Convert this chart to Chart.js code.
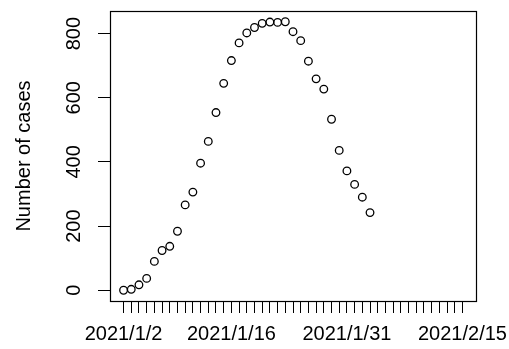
<!DOCTYPE html>
<html>
<head>
<meta charset="utf-8">
<script src="https://cdn.jsdelivr.net/npm/chart.js@4/dist/chart.umd.min.js"></script>
<style>
  html, body { margin: 0; padding: 0; background: #fff; }
  #wrap { width: 509px; height: 349px; }
</style>
</head>
<body>
<div id="wrap"><canvas id="casesChart" width="509" height="349"></canvas></div>
<script>
// --- Data ---
// day index 0 = 2021/1/2, one point per day
const cases = [0, 3, 17, 37, 90, 124, 137, 184, 266, 306, 396, 464, 554, 645, 716, 771,
               802, 819, 832, 836, 835, 837, 806, 778, 714, 659, 627, 533, 436, 372, 330, 290, 242];
const tickLabelDays = [0, 14, 29, 44];
const tickLabels = ['2021/1/2', '2021/1/16', '2021/1/31', '2021/2/15'];
const yTicks = [0, 200, 400, 600, 800];
const xFirstDay = 0;
const xLastDay = 44;

const FONT = "'Liberation Sans', Arial, Helvetica, sans-serif";

// R style 4% padding around the limits
const xPad = (xLastDay - xFirstDay) * 0.04;
const yMax = Math.max(...cases), yMin = Math.min(...cases);
const yPad = (yMax - yMin) * 0.04;

const points = cases.map((v, i) => ({x: i, y: v}));

let dayTicks = [];
for (let d = xFirstDay; d <= xLastDay; d++) dayTicks.push(d);

// box around the plot region, like R's box()
const boxPlugin = {
    id: 'box',
    afterDraw(chart) {
        const {ctx, chartArea: a} = chart;
        ctx.save();
        ctx.strokeStyle = '#000';
        ctx.lineWidth = 1.2;
        ctx.strokeRect(a.left + 0.5, a.top + 0.5, a.right - a.left, a.bottom - a.top);
        ctx.restore();
    }
};

// keep the axes from reserving room for overhanging labels
function noOverhang(s) {
    s.paddingLeft = 0; s.paddingRight = 0;
    s.paddingTop = 0; s.paddingBottom = 0;
}

new Chart(document.getElementById('casesChart').getContext('2d'), {
    type: 'scatter',
    data: {
        datasets: [{
            data: points,
            pointStyle: 'circle',
            pointRadius: 3.8,
            pointHoverRadius: 3.8,
            pointBorderWidth: 1.3,
            borderColor: '#000',
            backgroundColor: 'rgba(0,0,0,0)'
        }]
    },
    options: {
        responsive: false,
        animation: false,
        events: [],
        layout: { padding: {top: 11, right: 33, left: 0, bottom: 0} },
        plugins: { legend: {display: false}, tooltip: {enabled: false} },
        scales: {
            x: {
                type: 'linear',
                min: xFirstDay - xPad,
                max: xLastDay + xPad,
                afterBuildTicks: s => { s.ticks = dayTicks.map(v => ({value: v})); },
                afterFit: s => { s.height = 48; noOverhang(s); },
                border: {display: false},
                grid: {drawOnChartArea: false, drawTicks: true, tickLength: 12, color: '#000', lineWidth: 1},
                ticks: {
                    autoSkip: false,
                    maxRotation: 0,
                    minRotation: 0,
                    padding: 9,
                    color: '#000',
                    font: {family: FONT, size: 20},
                    callback: v => {
                        const k = tickLabelDays.indexOf(v);
                        return k >= 0 ? tickLabels[k] : '';
                    }
                }
            },
            y: {
                min: yMin - yPad,
                max: yMax + yPad,
                afterBuildTicks: s => { s.ticks = yTicks.map(v => ({value: v})); },
                afterFit: s => { s.width = 110; noOverhang(s); },
                border: {display: false},
                grid: {drawOnChartArea: false, drawTicks: true, tickLength: 12, color: '#000', lineWidth: 1},
                ticks: {
                    minRotation: 90,
                    maxRotation: 90,
                    crossAlign: 'center',
                    padding: 7,
                    color: '#000',
                    font: {family: FONT, size: 20}
                },
                title: {
                    display: true,
                    text: 'Number of cases',
                    color: '#000',
                    font: {family: FONT, size: 20},
                    padding: {top: 12, bottom: 0}
                }
            }
        }
    },
    plugins: [boxPlugin]
});
</script>
</body>
</html>
